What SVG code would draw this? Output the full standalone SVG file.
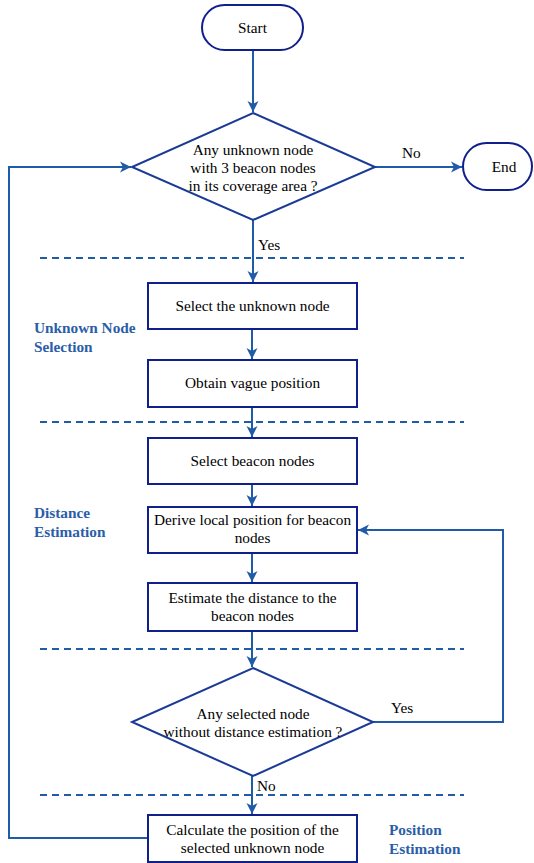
<svg xmlns="http://www.w3.org/2000/svg" width="534" height="863" viewBox="0 0 534 863" font-family="Liberation Serif, DejaVu Serif, serif" font-size="15.3">
<style>
.shape{fill:#fff;stroke:#0f1f8c;stroke-width:2}
.dia{fill:#fff;stroke:#1a3a96;stroke-width:2}
.conn{fill:none;stroke:#1f5ba6;stroke-width:2}
.dash{fill:none;stroke:#1f5ba6;stroke-width:2;stroke-dasharray:7 5}
.t{fill:#000;text-anchor:middle}
.lbl{fill:#000}
.sec{font-weight:bold;fill:#2a5ea8}
</style>
<defs>
<marker id="arr" markerUnits="userSpaceOnUse" markerWidth="12" markerHeight="12" refX="11" refY="6" orient="auto">
<path d="M0,0.5 L11,6 L0,11.5 L3,6 z" fill="#1f5ba6"/>
</marker>
</defs>
<rect width="534" height="863" fill="#fff"/>
<g id="dividers">
<line class="dash" x1="40" y1="258" x2="464" y2="258"/>
<line class="dash" x1="40" y1="422" x2="464" y2="422"/>
<line class="dash" x1="40" y1="649" x2="464" y2="649"/>
<line class="dash" x1="40" y1="795" x2="464" y2="795"/>
</g>
<g id="connectors">
<line class="conn" x1="253" y1="50" x2="253" y2="112" marker-end="url(#arr)"/>
<line class="conn" x1="375" y1="167" x2="462" y2="167" marker-end="url(#arr)"/>
<line class="conn" x1="253" y1="220" x2="253" y2="282" marker-end="url(#arr)"/>
<line class="conn" x1="252" y1="329" x2="252" y2="359" marker-end="url(#arr)"/>
<line class="conn" x1="252" y1="407" x2="252" y2="437" marker-end="url(#arr)"/>
<line class="conn" x1="252" y1="484" x2="252" y2="506" marker-end="url(#arr)"/>
<line class="conn" x1="252" y1="553" x2="252" y2="582" marker-end="url(#arr)"/>
<line class="conn" x1="252" y1="631" x2="252" y2="667" marker-end="url(#arr)"/>
<line class="conn" x1="252" y1="776" x2="252" y2="814" marker-end="url(#arr)"/>
<polyline class="conn" points="373,722 503,722 503,530 358,530" marker-end="url(#arr)"/>
<polyline class="conn" points="148,838 9,838 9,167 131,167" marker-end="url(#arr)"/>
<text class="lbl" x="402" y="158">No</text>
<text class="lbl" x="258" y="250">Yes</text>
<text class="lbl" x="391" y="713">Yes</text>
<text class="lbl" x="257" y="791">No</text>
</g>
<g id="start">
<rect class="shape" x="202" y="5" width="101" height="45" rx="22.5"/>
<text class="t" x="252.5" y="33">Start</text>
</g>
<g id="decision1">
<polygon class="dia" points="253,113 375,167 253,220 132,167"/>
<text class="t" x="253" y="155">Any unknown node</text>
<text class="t" x="253" y="173">with 3 beacon nodes</text>
<text class="t" x="253" y="191">in its coverage area ?</text>
</g>
<g id="end">
<rect class="shape" x="463" y="143" width="69" height="47" rx="23.5"/>
<text class="t" x="504" y="172">End</text>
</g>
<g id="select-unknown">
<rect class="shape" x="148" y="283" width="209" height="46"/>
<text class="t" x="252.5" y="311">Select the unknown node</text>
</g>
<g id="obtain-vague">
<rect class="shape" x="148" y="360" width="209" height="47"/>
<text class="t" x="252.5" y="388">Obtain vague position</text>
</g>
<g id="select-beacon">
<rect class="shape" x="148" y="438" width="209" height="46"/>
<text class="t" x="252.5" y="466">Select beacon nodes</text>
</g>
<g id="derive-local">
<rect class="shape" x="148" y="507" width="209" height="46"/>
<text class="t" x="252.5" y="525">Derive local position for beacon</text>
<text class="t" x="252.5" y="543">nodes</text>
</g>
<g id="estimate-distance">
<rect class="shape" x="148" y="583" width="209" height="48"/>
<text class="t" x="252.5" y="603">Estimate the distance to the</text>
<text class="t" x="252.5" y="621">beacon nodes</text>
</g>
<g id="decision2">
<polygon class="dia" points="253,668 373,722 253,776 132,722"/>
<text class="t" x="253" y="719">Any selected node</text>
<text class="t" x="253" y="737">without distance estimation ?</text>
</g>
<g id="calculate-position">
<rect class="shape" x="148" y="815" width="209" height="47"/>
<text class="t" x="252.5" y="835">Calculate the position of the</text>
<text class="t" x="252.5" y="853">selected unknown node</text>
</g>
<g id="section-labels">
<text class="sec" x="34" y="333">Unknown Node</text>
<text class="sec" x="34" y="352">Selection</text>
<text class="sec" x="34" y="518">Distance</text>
<text class="sec" x="34" y="537">Estimation</text>
<text class="sec" x="389" y="835">Position</text>
<text class="sec" x="389" y="854">Estimation</text>
</g>
</svg>
